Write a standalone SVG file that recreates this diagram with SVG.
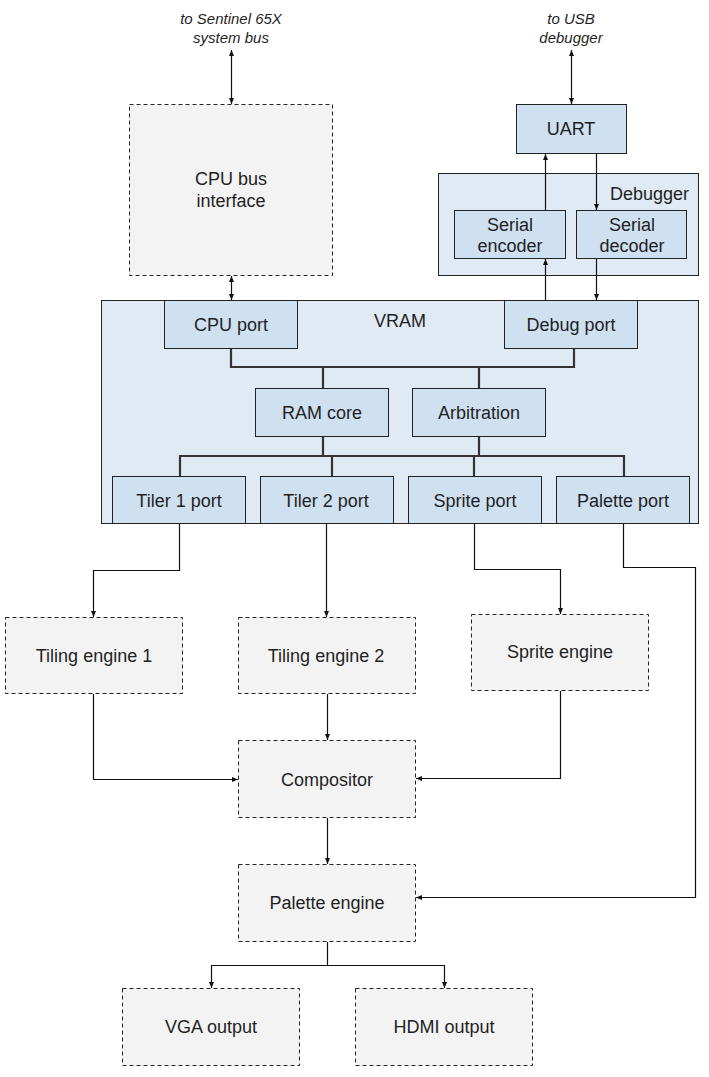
<svg xmlns="http://www.w3.org/2000/svg" width="709" height="1077" viewBox="0 0 709 1077">
<style>
text{font-family:"Liberation Sans",Arial,sans-serif;font-size:18px;fill:#1f1f1f;text-anchor:middle}
.it{font-style:italic;font-size:15px}
.outer{fill:#e0eaf5;stroke:#222;stroke-width:1}
.inner{fill:#cfe0f1;stroke:#222;stroke-width:1}
.dash{fill:#f3f3f3;stroke:#222;stroke-width:1;stroke-dasharray:4 3}
.c{fill:none;stroke:#111;stroke-width:1.2}
.bus{fill:none;stroke:#333;stroke-width:2.2}
.a{marker-end:url(#ah)}
.aa{marker-end:url(#ah);marker-start:url(#ah)}
</style>
<defs>
<marker id="ah" markerUnits="userSpaceOnUse" markerWidth="7" markerHeight="6" refX="6" refY="2.5" orient="auto-start-reverse" viewBox="0 0 7 5">
<path d="M0,0 L6,2.5 L0,5 z" fill="#111"/>
</marker>
</defs>
<rect width="709" height="1077" fill="#fff"/>

<g id="label-sentinel"><text class="it" x="231" y="24">to Sentinel 65X</text><text class="it" x="231" y="43">system bus</text></g>
<g id="label-usb"><text class="it" x="571" y="24">to USB</text><text class="it" x="571" y="43">debugger</text></g>

<g id="cpu-bus-interface"><rect class="dash" x="129.5" y="104.5" width="203" height="171"/><text x="231" y="185">CPU bus</text><text x="231" y="207">interface</text></g>
<g id="uart"><rect class="inner" x="516.5" y="104.5" width="110" height="49"/><text x="571" y="135">UART</text></g>
<g id="debugger"><rect class="outer" x="438.5" y="173.5" width="260" height="102"/><text x="689" y="200" style="text-anchor:end">Debugger</text></g>
<g id="serial-encoder"><rect class="inner" x="454.5" y="210.5" width="111" height="48"/><text x="510" y="231">Serial</text><text x="510" y="252">encoder</text></g>
<g id="serial-decoder"><rect class="inner" x="576.5" y="210.5" width="110" height="48"/><text x="632" y="231">Serial</text><text x="632" y="252">decoder</text></g>

<g id="vram"><rect class="outer" x="101.5" y="300.5" width="597" height="223"/><text x="400" y="327">VRAM</text></g>
<g id="cpu-port"><rect class="inner" x="164.5" y="300.5" width="133" height="48"/><text x="231" y="331">CPU port</text></g>
<g id="debug-port"><rect class="inner" x="504.5" y="300.5" width="133" height="48"/><text x="571" y="331">Debug port</text></g>
<g id="ram-core"><rect class="inner" x="255.5" y="388.5" width="133" height="48"/><text x="322" y="419">RAM core</text></g>
<g id="arbitration"><rect class="inner" x="412.5" y="388.5" width="133" height="48"/><text x="479" y="419">Arbitration</text></g>
<g id="tiler1-port"><rect class="inner" x="112.5" y="476.5" width="133" height="47"/><text x="179" y="507">Tiler 1 port</text></g>
<g id="tiler2-port"><rect class="inner" x="260.5" y="476.5" width="133" height="47"/><text x="326" y="507">Tiler 2 port</text></g>
<g id="sprite-port"><rect class="inner" x="408.5" y="476.5" width="133" height="47"/><text x="475" y="507">Sprite port</text></g>
<g id="palette-port"><rect class="inner" x="556.5" y="476.5" width="133" height="47"/><text x="623" y="507">Palette port</text></g>

<g id="tiling-engine-1"><rect class="dash" x="5.5" y="617.5" width="177" height="76"/><text x="94" y="662">Tiling engine 1</text></g>
<g id="tiling-engine-2"><rect class="dash" x="238.5" y="617.5" width="177" height="76"/><text x="326" y="662">Tiling engine 2</text></g>
<g id="sprite-engine"><rect class="dash" x="471.5" y="614.5" width="177" height="76"/><text x="560" y="658">Sprite engine</text></g>
<g id="compositor"><rect class="dash" x="238.5" y="740.5" width="177" height="77"/><text x="327" y="786">Compositor</text></g>
<g id="palette-engine"><rect class="dash" x="238.5" y="864.5" width="177" height="77"/><text x="327" y="909">Palette engine</text></g>
<g id="vga-output"><rect class="dash" x="122.5" y="988.5" width="177" height="77"/><text x="211" y="1033">VGA output</text></g>
<g id="hdmi-output"><rect class="dash" x="355.5" y="988.5" width="177" height="77"/><text x="444" y="1033">HDMI output</text></g>

<g id="connectors">
<path class="c aa" d="M231.5 50 V104"/>
<path class="c aa" d="M231.5 276 V300"/>
<path class="c aa" d="M571.5 50 V104"/>
<path class="c a" d="M545.5 210 V154"/>
<path class="c a" d="M596.5 154 V210"/>
<path class="c a" d="M545.5 300 V259"/>
<path class="c a" d="M596.5 259 V300"/>
<path class="bus" d="M231 349 V367 H574 V349"/>
<path class="bus" d="M323 367 V388 M479 367 V388 M323 437 V456 M479 437 V456"/>
<path class="bus" d="M180 476 V456 H624 V476 M332 456 V476 M474 456 V476"/>
<path class="c a" d="M179.5 524 V570.5 H93.5 V617"/>
<path class="c a" d="M326.5 524 V617"/>
<path class="c a" d="M474.5 524 V569.5 H560.5 V614"/>
<path class="c a" d="M623.5 524 V567.5 H695.5 V897.5 H416"/>
<path class="c a" d="M93.5 694 V779.5 H238"/>
<path class="c a" d="M327.5 694 V740"/>
<path class="c a" d="M560.5 691 V778.5 H416"/>
<path class="c a" d="M327.5 818 V864"/>
<path class="c a" d="M327.5 942 V965.5 H211.5 V988"/>
<path class="c a" d="M327.5 965.5 H444.5 V988"/>
</g>
</svg>
